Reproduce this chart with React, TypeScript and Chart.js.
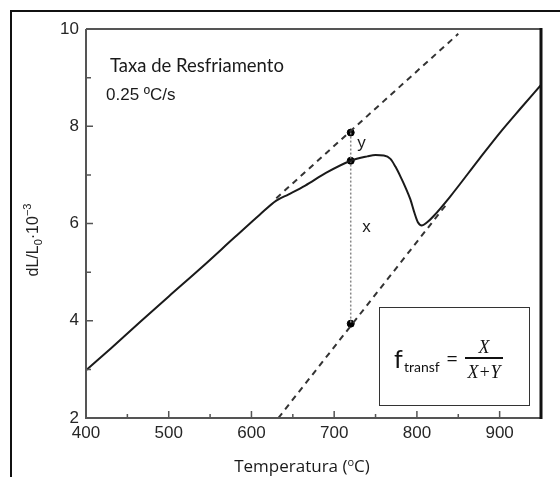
import React, { useEffect, useRef } from "react";
import { Chart, registerables } from "chart.js";

Chart.register(...registerables);

// Main dilatometry curve (Temperature °C, dL/L0·10^-3)
const curveX = [400, 430, 465, 500, 540, 580, 610, 630, 645, 665, 690, 720, 740, 750, 760, 768, 774, 780, 786, 792, 797, 801, 806, 812, 820, 840, 875, 900, 925, 950];
const curveY = [2.98, 3.43, 3.97, 4.5, 5.1, 5.72, 6.18, 6.47, 6.6, 6.78, 7.04, 7.29, 7.38, 7.41, 7.4, 7.33, 7.17, 6.97, 6.75, 6.5, 6.22, 6.03, 5.96, 6.02, 6.15, 6.55, 7.32, 7.86, 8.36, 8.85];

// Extrapolated (dashed) lines
const upperDashX = [630, 850];
const upperDashY = [6.52, 9.9];
const lowerDashX = [632.5, 835];
const lowerDashY = [2.0, 6.38];

// Construction at T = 720 °C
const markX = [720, 720, 720];
const markY = [7.87, 7.29, 3.94];

// Axes
const xMajorTicks = [400, 500, 600, 700, 800, 900];
const xMinorTicks = [450, 550, 650, 750, 850];
const yMajorTicks = [2, 4, 6, 8, 10];
const yMinorTicks = [3, 5, 7, 9];

const pts = (xs: number[], ys: number[]) => xs.map((x, i) => ({ x, y: ys[i] }));

const overlay = {
  id: "overlay",
  beforeDraw(chart: any) {
    const ctx = chart.ctx;
    ctx.save();
    ctx.fillStyle = "#ffffff";
    ctx.fillRect(0, 0, chart.width, chart.height);
    ctx.strokeStyle = "#111";
    ctx.lineWidth = 2;
    ctx.beginPath();
    ctx.moveTo(11, 477);
    ctx.lineTo(11, 11);
    ctx.lineTo(560, 11);
    ctx.stroke();
    ctx.restore();
  },
  afterDraw(chart: any) {
    const ctx = chart.ctx;
    const xs = chart.scales.x;
    const ys = chart.scales.y;
    const { left, right, top, bottom } = chart.chartArea;
    ctx.save();

    // plot box
    ctx.strokeStyle = "#555";
    ctx.lineWidth = 2;
    ctx.beginPath();
    ctx.moveTo(left, top);
    ctx.lineTo(left, bottom);
    ctx.lineTo(right, bottom);
    ctx.moveTo(left, top);
    ctx.lineTo(right, top);
    ctx.stroke();
    ctx.strokeStyle = "#111";
    ctx.lineWidth = 3;
    ctx.beginPath();
    ctx.moveTo(right, top - 1);
    ctx.lineTo(right, bottom + 1);
    ctx.stroke();

    // ticks (inward)
    ctx.strokeStyle = "#555";
    ctx.lineWidth = 1.5;
    ctx.beginPath();
    xMajorTicks.forEach((v) => {
      const px = xs.getPixelForValue(v);
      ctx.moveTo(px, bottom);
      ctx.lineTo(px, bottom - 7);
    });
    xMinorTicks.forEach((v) => {
      const px = xs.getPixelForValue(v);
      ctx.moveTo(px, bottom);
      ctx.lineTo(px, bottom - 4);
    });
    yMajorTicks.forEach((v) => {
      const py = ys.getPixelForValue(v);
      ctx.moveTo(left, py);
      ctx.lineTo(left + 7, py);
    });
    yMinorTicks.forEach((v) => {
      const py = ys.getPixelForValue(v);
      ctx.moveTo(left, py);
      ctx.lineTo(left + 5, py);
    });
    ctx.stroke();

    // tick labels
    ctx.fillStyle = "#262626";
    ctx.font = "17px 'Liberation Sans', Arial, sans-serif";
    ctx.textAlign = "center";
    ctx.textBaseline = "middle";
    xMajorTicks.forEach((v) => {
      ctx.fillText(String(v), xs.getPixelForValue(v), bottom + 15);
    });
    ctx.textAlign = "right";
    yMajorTicks.forEach((v) => {
      ctx.fillText(String(v), left - 7, ys.getPixelForValue(v));
    });

    // x title
    ctx.fillStyle = "#1a1a1a";
    ctx.textBaseline = "alphabetic";
    ctx.textAlign = "left";
    const f1 = "17px 'Open Sans', sans-serif";
    const f1s = "11px 'Open Sans', sans-serif";
    const partA = "Temperatura (";
    const partB = "o";
    const partC = "C)";
    ctx.font = f1;
    const wA = ctx.measureText(partA).width;
    const wC = ctx.measureText(partC).width;
    ctx.font = f1s;
    const wB = ctx.measureText(partB).width;
    const total = wA + wB + wC;
    let tx = 302 - total / 2;
    const tb = 472;
    ctx.font = f1;
    ctx.fillText(partA, tx, tb);
    tx += wA;
    ctx.font = f1s;
    ctx.fillText(partB, tx, tb - 6);
    tx += wB;
    ctx.font = f1;
    ctx.fillText(partC, tx, tb);

    // y title (rotated)
    ctx.save();
    ctx.translate(38, 240);
    ctx.rotate(-Math.PI / 2);
    const fy = "16px 'Liberation Sans', Arial, sans-serif";
    const fys = "11px 'Liberation Sans', Arial, sans-serif";
    const pieces: [string, string, number][] = [
      ["dL/L", fy, 0],
      ["0", fys, 4],
      ["\u00b710", fy, 0],
      ["\u22123", fys, -7],
    ];
    let tw = 0;
    pieces.forEach(([t, f]) => {
      ctx.font = f;
      tw += ctx.measureText(t).width;
    });
    let yx = -tw / 2;
    ctx.fillStyle = "#222";
    pieces.forEach(([t, f, dy]) => {
      ctx.font = f;
      ctx.fillText(t, yx, dy);
      yx += ctx.measureText(t).width;
    });
    ctx.restore();

    // annotations
    ctx.fillStyle = "#1a1a1a";
    ctx.font = "18.5px Lato, 'Open Sans', sans-serif";
    ctx.textBaseline = "middle";
    ctx.fillText("Taxa de Resfriamento", 110, 66);
    ctx.font = "17px 'Liberation Sans', Arial, sans-serif";
    ctx.fillText("0.25 \u00baC/s", 106, 95);

    ctx.textAlign = "center";
    ctx.font = "17px 'Liberation Sans', Arial, sans-serif";
    ctx.fillText("y", xs.getPixelForValue(733), ys.getPixelForValue(7.65));
    ctx.fillText("x", xs.getPixelForValue(739), ys.getPixelForValue(5.92));

    // formula box
    ctx.strokeStyle = "#333";
    ctx.lineWidth = 1;
    ctx.strokeRect(379.5, 307.5, 150, 98);
    ctx.textAlign = "left";
    ctx.textBaseline = "alphabetic";
    ctx.fillStyle = "#111";
    ctx.font = "25px Lato, sans-serif";
    ctx.fillText("f", 394, 368);
    ctx.font = "14px Lato, sans-serif";
    ctx.fillText("transf", 404, 372);
    ctx.font = "21px Lato, sans-serif";
    ctx.fillText("=", 446, 366);
    ctx.lineWidth = 2;
    ctx.strokeStyle = "#111";
    ctx.beginPath();
    ctx.moveTo(465, 358);
    ctx.lineTo(503, 358);
    ctx.stroke();
    ctx.textAlign = "center";
    ctx.font = "italic 18px 'Liberation Serif', serif";
    ctx.fillText("X", 484, 353);
    ctx.fillText("X+Y", 484, 378);

    ctx.restore();
  },
};

export default function App() {
  const ref = useRef<HTMLCanvasElement | null>(null);
  useEffect(() => {
    document.body.style.margin = "0";
    if (!ref.current) return;
    const chart = new Chart(ref.current, {
      type: "line",
      data: {
        datasets: [
          {
            data: pts(curveX, curveY),
            borderColor: "#1a1a1a",
            borderWidth: 2,
            pointRadius: 0,
            cubicInterpolationMode: "monotone",
          },
          {
            data: pts(upperDashX, upperDashY),
            borderColor: "#333",
            borderWidth: 2,
            borderDash: [6, 5],
            pointRadius: 0,
          },
          {
            data: pts(lowerDashX, lowerDashY),
            borderColor: "#333",
            borderWidth: 2,
            borderDash: [6, 5],
            pointRadius: 0,
          },
          {
            data: [
              { x: markX[0], y: markY[0] },
              { x: markX[2], y: markY[2] },
            ],
            borderColor: "#888",
            borderWidth: 1.5,
            borderDash: [2, 2],
            pointRadius: 0,
          },
          {
            type: "scatter",
            data: pts(markX, markY),
            backgroundColor: "#000",
            borderColor: "#000",
            pointRadius: 3.5,
            showLine: false,
          },
        ],
      } as any,
      options: {
        animation: false,
        responsive: false,
        devicePixelRatio: 1,
        layout: { padding: { left: 86, right: 19, top: 29, bottom: 59 } },
        plugins: { legend: { display: false }, tooltip: { enabled: false } },
        scales: {
          x: { type: "linear", min: 400, max: 950, display: false },
          y: { type: "linear", min: 2, max: 10, display: false },
        },
      },
      plugins: [overlay],
    });
    return () => chart.destroy();
  }, []);
  return <canvas ref={ref} width={560} height={477} style={{ display: "block", width: 560, height: 477 }} />;
}
